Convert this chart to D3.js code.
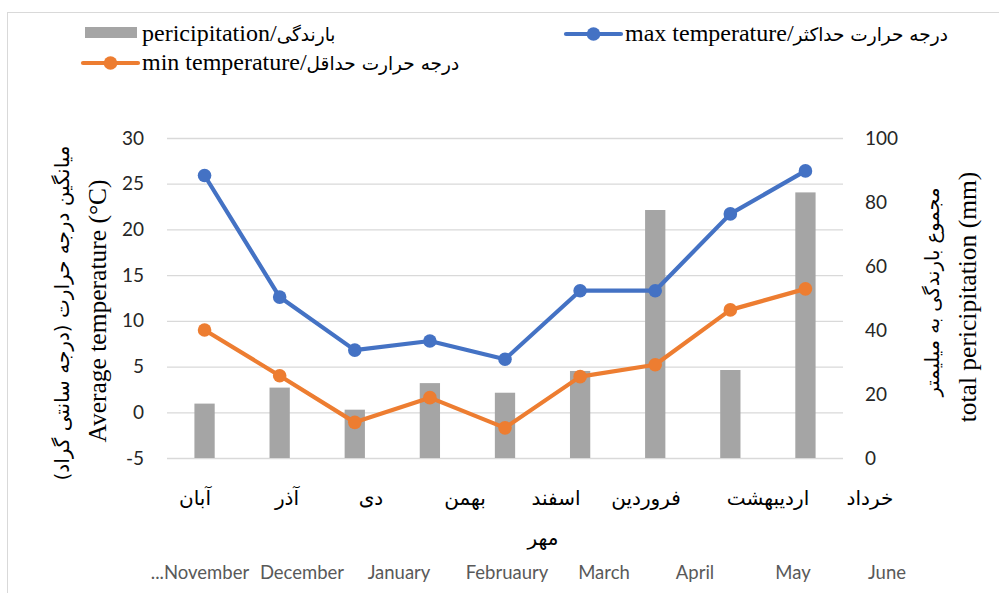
<!DOCTYPE html>
<html><head><meta charset="utf-8">
<script src="https://cdn.jsdelivr.net/npm/d3@7"></script>
<style>
body{margin:0;background:#fff;}
svg{display:block;}
</style></head>
<body>
<svg id="c" width="999" height="593"></svg>
<script>
const categories = ["آبان","آذر","دی","بهمن","اسفند","فروردین","اردیبهشت","خرداد","تیر"];
const maxTemp = [25.9, 12.6, 6.8, 7.8, 5.8, 13.3, 13.3, 21.7, 26.4];
const minTemp = [9.0, 4.0, -1.1, 1.6, -1.7, 3.9, 5.2, 11.2, 13.5];
const precip  = [17.0, 22.0, 15.1, 23.4, 20.4, 27.2, 77.5, 27.5, 83.0];
const leftTicks  = [-5, 0, 5, 10, 15, 20, 25, 30];
const rightTicks = [0, 20, 40, 60, 80, 100];
const persianLabels = ["آبان","آذر","دی","بهمن","اسفند","فروردین","اردیبهشت","خرداد"];
const englishLabels = ["...November","December","January","Februaury","March","April","May","June"];
const secondLineLabel = "مهر";

// layout (not data)
const persianX = [195, 287, 371, 465, 556, 646, 768, 870];
const englishX = [200, 302, 399, 507, 604, 695, 793, 887];

const svg = d3.select("#c");
const L = 167, R = 843, T = 138, B = 458;
const serif = "'Liberation Serif','Times New Roman',serif";
const sans = "Lato,'Open Sans',sans-serif";
const arab = "'DejaVu Sans',sans-serif";

svg.append("rect").attr("x",7.5).attr("y",12.5).attr("width",1000).attr("height",600)
  .attr("fill","#fff").attr("stroke","#d9d9d9").attr("stroke-width",1);

const x = d3.scaleBand().domain(d3.range(categories.length)).range([L, R]).paddingInner(0.73).paddingOuter(0.365);
const xc = i => x(i) + x.bandwidth()/2;
const yL = d3.scaleLinear().domain([-5, 30]).range([B, T]);
const yR = d3.scaleLinear().domain([0, 100]).range([B, T]);

// gridlines
const grid = svg.append("g").attr("transform",`translate(${L},0)`)
  .call(d3.axisLeft(yL).tickValues(leftTicks).tickSize(-(R-L)).tickFormat(""));
grid.select(".domain").remove();
grid.selectAll("line").attr("stroke","#d9d9d9").attr("stroke-width",1.3);

// left axis labels
const ga = svg.append("g").attr("transform",`translate(${L-13},0)`)
  .call(d3.axisLeft(yL).tickValues(leftTicks).tickSize(0).tickPadding(10).tickFormat(d=>String(d)));
ga.select(".domain").remove();
ga.selectAll("text").attr("font-family",sans).attr("font-size",19).attr("fill","#262626");

// right axis labels
const gb = svg.append("g").attr("transform",`translate(${R+12},0)`)
  .call(d3.axisRight(yR).tickValues(rightTicks).tickSize(0).tickPadding(10).tickFormat(d=>String(d)));
gb.select(".domain").remove();
gb.selectAll("text").attr("font-family",sans).attr("font-size",19).attr("fill","#262626");

// bars
svg.append("g").selectAll("rect").data(precip).join("rect")
  .attr("x",(d,i)=>x(i)).attr("width",x.bandwidth())
  .attr("y",d=>yR(d)).attr("height",d=>yR(0)-yR(d))
  .attr("fill","#a5a5a5");

function drawLine(vals, color){
  const line = d3.line().x((d,i)=>xc(i)).y(d=>yL(d));
  svg.append("path").datum(vals).attr("d",line).attr("fill","none")
    .attr("stroke",color).attr("stroke-width",4.2).attr("stroke-linejoin","round").attr("stroke-linecap","round");
  svg.append("g").selectAll("circle").data(vals).join("circle")
    .attr("cx",(d,i)=>xc(i)).attr("cy",d=>yL(d)).attr("r",6.8).attr("fill",color);
}
drawLine(maxTemp, "#4472c4");
drawLine(minTemp, "#ed7d31");

// category labels
svg.append("g").selectAll("text").data(persianLabels).join("text")
  .attr("x",(d,i)=>persianX[i]).attr("y",505).attr("text-anchor","middle")
  .attr("font-family",arab).attr("font-size",20).attr("fill","#000")
  .text(d=>d);
svg.append("text").attr("x",543).attr("y",545).attr("text-anchor","middle")
  .attr("font-family",arab).attr("font-size",20).attr("fill","#000").text(secondLineLabel);
svg.append("g").selectAll("text").data(englishLabels).join("text")
  .attr("x",(d,i)=>englishX[i]).attr("y",579).attr("text-anchor","middle")
  .attr("font-family",sans).attr("font-size",18.5).attr("fill","#595959")
  .text(d=>d);

// axis titles
function vtext(cx, cy, txt, font, size){
  svg.append("text").attr("transform",`translate(${cx},${cy}) rotate(-90)`)
    .attr("text-anchor","middle").attr("dominant-baseline","central")
    .attr("font-family",font).attr("font-size",size).attr("fill","#000").text(txt);
}
vtext(62, 313, "میانگین درجه حرارت (درجه سانتی گراد)", arab, 20);
vtext(97, 311, "Average temperature (°C)", serif, 25.5);
vtext(932, 292, "مجموع بارندگی به میلیمتر", arab, 19.5);
vtext(967, 297, "total pericipitation (mm)", serif, 25.5);

// legend
const lg = svg.append("g");
function legText(x0, y0, en, fa){
  const t = lg.append("text").attr("x",x0).attr("y",y0).attr("fill","#000");
  t.append("tspan").attr("font-family",serif).attr("font-size",24).text(en);
  t.append("tspan").attr("font-family",arab).attr("font-size",18.5).text(fa);
}
lg.append("rect").attr("x",85).attr("y",27).attr("width",52).attr("height",11).attr("fill","#a5a5a5");
legText(142, 41, "pericipitation/", "بارندگی");
function legLine(x0, yy, color, en, fa){
  lg.append("line").attr("x1",x0).attr("x2",x0+55).attr("y1",yy).attr("y2",yy)
    .attr("stroke",color).attr("stroke-width",4.2).attr("stroke-linecap","round");
  lg.append("circle").attr("cx",x0+27.5).attr("cy",yy).attr("r",6.8).attr("fill",color);
  legText(x0+59, yy+7, en, fa);
}
legLine(83, 63, "#ed7d31", "min temperature/", "درجه حرارت حداقل");
legLine(566, 34, "#4472c4", "max temperature/", "درجه حرارت حداکثر");
</script>
</body></html>
